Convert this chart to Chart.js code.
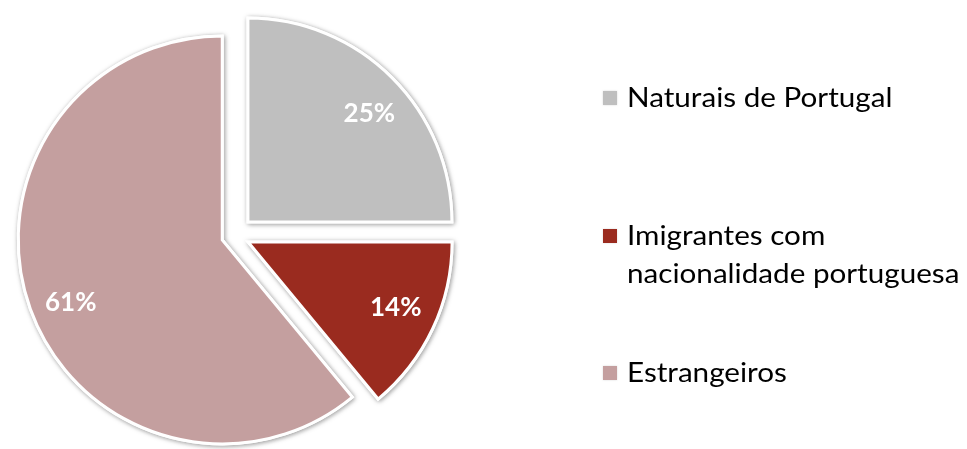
<!DOCTYPE html>
<html>
<head>
<meta charset="utf-8">
<script src="https://cdn.jsdelivr.net/npm/chart.js@4/dist/chart.umd.min.js"></script>
<style>
  html, body { margin: 0; padding: 0; background: #fff; width: 967px; height: 449px; overflow: hidden; }
  #wrap { position: absolute; left: 0; top: 0; width: 469px; height: 449px; }
  #legend { position: absolute; left: 0; top: 0; width: 967px; height: 449px; pointer-events: none; font-family: Lato, "Open Sans", sans-serif; font-size: 26px; color: #000; }
  .sw { position: absolute; width: 14px; height: 14px; box-shadow: 0 0 2px rgba(0,0,0,0.15); }
  .lt { position: absolute; line-height: 38px; white-space: nowrap; transform: scaleX(1.14); transform-origin: 0 0; }
</style>
</head>
<body>
<div id="wrap"><canvas id="c"></canvas></div>
<div id="legend"></div>
<script>
// ---- data ----
const categories = ['Naturais de Portugal', 'Imigrantes com nacionalidade portuguesa', 'Estrangeiros'];
const legendLines = [['Naturais de Portugal'], ['Imigrantes com', 'nacionalidade portuguesa'], ['Estrangeiros']];
const shares = [25, 14, 61];

// ---- style ----
const sliceColors = ['#BFBFBF', '#9A2B1F', '#C49F9F'];
const explode = [19, 15, 13];
const labelNudge = [[6, 7], [0, -4], [2, 7]];
const legendTextTop = [78, 216, 353];
const legendSwatchTop = [91, 229, 366];

const explodePlugin = {
  id: 'explode',
  beforeDatasetDraw(chart, args) {
    const ctx = chart.ctx;
    const arcs = args.meta.data;
    const shift = (arc, i) => {
      const mid = (arc.startAngle + arc.endAngle) / 2;
      return [Math.cos(mid) * explode[i], Math.sin(mid) * explode[i], mid];
    };
    // shadow pass
    arcs.forEach((arc, i) => {
      const [dx, dy] = shift(arc, i);
      ctx.save();
      ctx.translate(dx, dy);
      ctx.shadowColor = 'rgba(0,0,0,0.35)';
      ctx.shadowBlur = 5;
      ctx.shadowOffsetX = 1;
      ctx.shadowOffsetY = 1;
      arc.draw(ctx);
      ctx.restore();
    });
    // main pass
    arcs.forEach((arc, i) => {
      const [dx, dy] = shift(arc, i);
      ctx.save();
      ctx.translate(dx, dy);
      arc.draw(ctx);
      ctx.restore();
    });
    // data labels
    ctx.save();
    ctx.fillStyle = '#fff';
    ctx.font = 'bold 26px Lato, "Open Sans", sans-serif';
    ctx.textAlign = 'center';
    ctx.textBaseline = 'middle';
    arcs.forEach((arc, i) => {
      const [dx, dy, mid] = shift(arc, i);
      const r = arc.outerRadius * 0.8;
      ctx.fillText(shares[i] + '%',
        arc.x + dx + Math.cos(mid) * r + labelNudge[i][0],
        arc.y + dy + Math.sin(mid) * r + labelNudge[i][1]);
    });
    ctx.restore();
    return false;
  }
};

new Chart(document.getElementById('c'), {
  type: 'pie',
  data: {
    labels: categories,
    datasets: [{
      data: shares,
      backgroundColor: sliceColors,
      borderColor: '#ffffff',
      borderWidth: 3,
      borderJoinStyle: 'miter'
    }]
  },
  options: {
    responsive: true,
    maintainAspectRatio: false,
    animation: false,
    radius: 204,
    layout: { padding: { top: 22, bottom: 0, left: 0, right: 0 } },
    plugins: { legend: { display: false }, tooltip: { enabled: false } },
    events: []
  },
  plugins: [explodePlugin]
});

// HTML legend built from the data arrays
const lg = document.getElementById('legend');
legendLines.forEach((lines, i) => {
  const sw = document.createElement('div');
  sw.className = 'sw';
  sw.style.left = '603px';
  sw.style.top = legendSwatchTop[i] + 'px';
  sw.style.background = sliceColors[i];
  lg.appendChild(sw);
  const t = document.createElement('div');
  t.className = 'lt';
  t.style.left = '627px';
  t.style.top = legendTextTop[i] + 'px';
  t.innerHTML = lines.join('<br>');
  lg.appendChild(t);
});
</script>
</body>
</html>
